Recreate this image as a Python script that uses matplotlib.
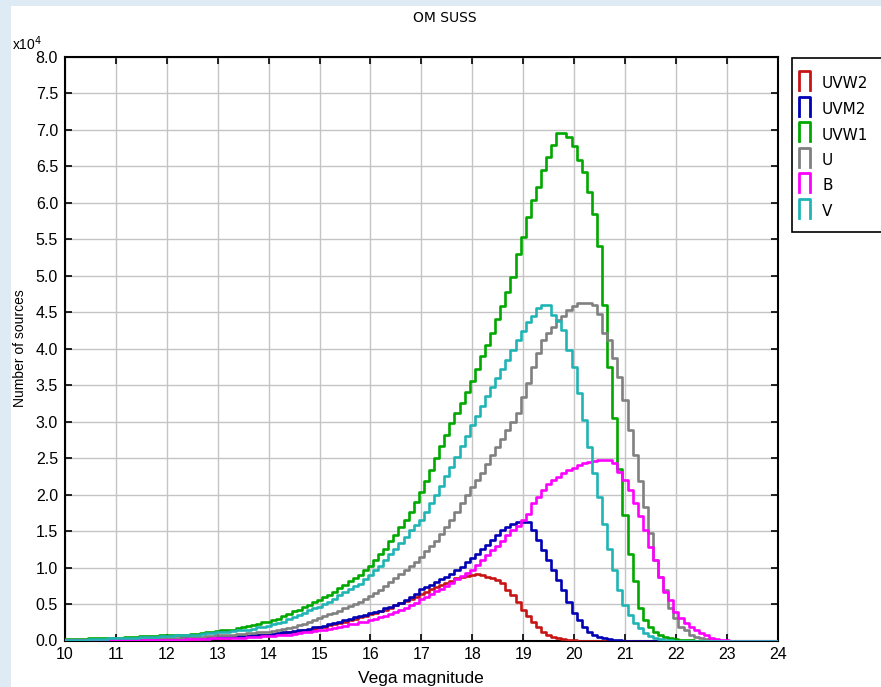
import numpy as np
import matplotlib
matplotlib.use('Agg')
import matplotlib.pyplot as plt
from matplotlib.lines import Line2D
from matplotlib.patches import Rectangle

# histogram counts per 0.1 mag bin, in units of 1e4 sources, bins start at 10.0
mag_start = 10.0
bin_width = 0.1

uvw2 = [0.005]*10 + [0.005,0.005,0.005,0.005,0.005,0.01,0.01,0.01,0.01,0.01] + \
    [0.01,0.01,0.01,0.02,0.02,0.02,0.02,0.03,0.03,0.03,
     0.04,0.04,0.04,0.05,0.05,0.05,0.06,0.06,0.07,0.07,
     0.07,0.08,0.09,0.10,0.11,0.12,0.13,0.14,0.15,0.16,
     0.18,0.19,0.21,0.22,0.24,0.26,0.28,0.30,0.32,0.34,
     0.36,0.38,0.40,0.42,0.45,0.48,0.51,0.54,0.57,0.60,
     0.64,0.67,0.70,0.73,0.76,0.79,0.82,0.85,0.87,0.89,
     0.90,0.91,0.90,0.87,0.85,0.83,0.79,0.69,0.62,0.53,
     0.42,0.33,0.26,0.19,0.12,0.075,0.045,0.03,0.02,0.01,
     0.005]
uvm2 = [0.005]*10 + \
    [0.01,0.01,0.01,0.01,0.01,0.01,0.01,0.02,0.02,0.02,
     0.02,0.02,0.02,0.03,0.03,0.03,0.03,0.04,0.04,0.04,
     0.05,0.05,0.05,0.05,0.06,0.06,0.06,0.07,0.07,0.08,
     0.08,0.09,0.10,0.11,0.12,0.13,0.14,0.15,0.16,0.18,
     0.19,0.20,0.22,0.24,0.26,0.28,0.30,0.32,0.34,0.35,
     0.37,0.39,0.41,0.44,0.46,0.48,0.52,0.56,0.60,0.64,
     0.70,0.73,0.76,0.80,0.84,0.87,0.91,0.96,1.01,1.08,
     1.13,1.19,1.25,1.31,1.38,1.45,1.51,1.56,1.60,1.62,
     1.63,1.62,1.51,1.38,1.24,1.10,0.97,0.83,0.69,0.53,
     0.38,0.28,0.19,0.12,0.075,0.05,0.03,0.02,0.01,0.005]
uvw1 = [0.02,0.02,0.02,0.02,0.02,0.03,0.03,0.03,0.03,0.04,
        0.04,0.04,0.05,0.05,0.05,0.06,0.06,0.06,0.06,0.07,
        0.07,0.07,0.08,0.08,0.08,0.09,0.09,0.10,0.11,0.12,
        0.13,0.14,0.14,0.15,0.17,0.18,0.20,0.21,0.23,0.25,
        0.26,0.28,0.30,0.33,0.36,0.40,0.42,0.46,0.49,0.53,
        0.56,0.60,0.63,0.67,0.72,0.76,0.81,0.86,0.90,0.96,
        1.02,1.10,1.18,1.26,1.36,1.45,1.55,1.65,1.76,1.90,
        2.04,2.18,2.34,2.50,2.66,2.82,2.98,3.12,3.26,3.40,
        3.55,3.72,3.90,4.05,4.22,4.40,4.58,4.78,4.98,5.30,
        5.53,5.80,6.03,6.22,6.45,6.63,6.79,6.96,6.96,6.90,
        6.78,6.58,6.42,6.15,5.85,5.40,4.60,3.75,3.05,2.35,
        1.72,1.18,0.81,0.45,0.28,0.19,0.12,0.08,0.05,0.03,
        0.02,0.01,0.01,0.005]
u = [0.01]*10 + \
    [0.01,0.01,0.01,0.02,0.02,0.02,0.02,0.02,0.03,0.03,
     0.03,0.03,0.04,0.04,0.04,0.05,0.05,0.05,0.06,0.06,
     0.07,0.07,0.08,0.08,0.09,0.09,0.10,0.10,0.11,0.11,
     0.12,0.13,0.14,0.16,0.17,0.19,0.21,0.23,0.26,0.28,
     0.31,0.33,0.36,0.38,0.41,0.44,0.47,0.50,0.53,0.57,
     0.61,0.65,0.69,0.74,0.80,0.86,0.91,0.97,1.02,1.08,
     1.15,1.22,1.29,1.37,1.46,1.55,1.65,1.76,1.88,1.99,
     2.10,2.20,2.30,2.42,2.54,2.65,2.76,2.88,3.00,3.12,
     3.34,3.53,3.75,3.94,4.12,4.21,4.30,4.39,4.44,4.53,
     4.58,4.62,4.63,4.63,4.60,4.48,4.21,4.12,3.87,3.61,
     3.29,2.88,2.54,2.18,1.83,1.47,1.10,0.87,0.69,0.45,
     0.31,0.19,0.14,0.08,0.05,0.03,0.02,0.01,0.005]
b = [0.003]*20 + \
    [0.01,0.01,0.01,0.01,0.02,0.02,0.02,0.02,0.02,0.03,
     0.03,0.03,0.03,0.04,0.04,0.04,0.05,0.05,0.05,0.06,
     0.06,0.06,0.07,0.07,0.08,0.09,0.10,0.11,0.12,0.13,
     0.14,0.15,0.16,0.17,0.19,0.20,0.22,0.23,0.25,0.26,
     0.28,0.30,0.32,0.34,0.36,0.39,0.42,0.45,0.49,0.52,
     0.57,0.60,0.64,0.68,0.71,0.75,0.79,0.84,0.89,0.93,
     0.97,1.04,1.10,1.17,1.24,1.30,1.37,1.44,1.51,1.57,
     1.65,1.74,1.88,1.97,2.06,2.15,2.20,2.24,2.29,2.34,
     2.36,2.40,2.43,2.45,2.46,2.47,2.48,2.48,2.43,2.31,
     2.20,2.06,1.88,1.70,1.51,1.28,1.10,0.87,0.67,0.55,
     0.39,0.31,0.24,0.19,0.14,0.10,0.07,0.04,0.02,0.01,
     0.005]
v = [0.01,0.01,0.01,0.01,0.01,0.02,0.02,0.02,0.02,0.03,
     0.03,0.03,0.03,0.04,0.04,0.05,0.05,0.05,0.05,0.06,
     0.06,0.06,0.07,0.07,0.07,0.08,0.08,0.09,0.10,0.10,
     0.11,0.12,0.12,0.13,0.14,0.14,0.15,0.16,0.18,0.19,
     0.20,0.22,0.24,0.26,0.29,0.32,0.35,0.38,0.42,0.44,
     0.46,0.50,0.53,0.57,0.62,0.66,0.70,0.74,0.78,0.84,
     0.90,0.96,1.02,1.10,1.18,1.25,1.33,1.42,1.52,1.58,
     1.65,1.76,1.88,2.00,2.12,2.25,2.38,2.52,2.66,2.80,
     2.95,3.08,3.22,3.35,3.48,3.60,3.72,3.85,3.98,4.12,
     4.24,4.36,4.45,4.55,4.60,4.60,4.46,4.38,4.25,3.98,
     3.75,3.39,3.02,2.65,2.30,1.97,1.60,1.25,0.97,0.69,
     0.49,0.35,0.24,0.17,0.10,0.06,0.03,0.02,0.01,0.005]

labels = ['UVW2', 'UVM2', 'UVW1', 'U', 'B', 'V']
colors = ['#c81414', '#0000b4', '#00a800', '#808080', '#ff00ff', '#20b4b4']
series = [uvw2, uvm2, uvw1, u, b, v]

nbins = 141
W, H = 881, 687
fig = plt.figure(figsize=(W/100, H/100), dpi=100)
fig.patch.set_facecolor('#deeaf4')
fig.patches.append(Rectangle((11/W, 0), 1, 1 - 6/H, transform=fig.transFigure,
                             facecolor='white', edgecolor='none', zorder=-10))

ax = fig.add_axes([65/W, 1 - 640.5/H, 712.7/W, 583.8/H])
mags = mag_start + bin_width*np.arange(nbins)
for vals, c in zip(series, colors):
    y = np.zeros(nbins)
    y[:len(vals)] = vals
    ax.step(mags, y*1e4, where='mid', color=c, lw=1.9, zorder=3)

ax.set_xlim(10, 24)
ax.set_ylim(0, 8e4)
ax.set_xticks(np.arange(10, 25, 1))
yt = np.arange(0, 8.01, 0.5)
ax.set_yticks(yt*1e4)
ax.set_yticklabels(['%.1f' % t for t in yt])
ax.grid(True, color='#c4c4c4', lw=1)
ax.set_axisbelow(True)
ax.tick_params(direction='in', length=5, width=1.2, top=True, right=True,
               labelsize=11.5)
ax.tick_params(axis='x', pad=5)
ax.tick_params(axis='y', pad=5)
for sp in ax.spines.values():
    sp.set_linewidth(1.5)
for t in ax.get_xticklabels() + ax.get_yticklabels():
    t.set_fontfamily('Liberation Sans')
ax.set_xlabel('Vega magnitude', fontsize=12.5, family='Liberation Sans')
ax.xaxis.set_label_coords(0.5, -0.052)
ax.set_ylabel('Number of sources', fontsize=10, family='Liberation Sans')
ax.yaxis.set_label_coords(-0.053, 0.5)

fig.text(12/W, 1 - 44/H, r'x10$^{4}$', fontsize=10, family='Liberation Sans',
         va='center', ha='left')
fig.text(445/W, 1 - 18/H, 'OM SUSS', fontsize=10, family='DejaVu Sans',
         ha='center', va='center')

# legend box drawn by hand to match the original layout
fig.patches.append(Rectangle((792/W, 1 - 232/H), 120/W, 174/H, transform=fig.transFigure,
                             facecolor='white', edgecolor='black', lw=1.2, zorder=5))
for i, (lab, c) in enumerate(zip(labels, colors)):
    yc = 84 + 25.5*i
    top = yc - 13
    hx = np.array([798.5, 798.5, 809.5, 809.5])
    hy = np.array([top + 19, top, top, top + 19])
    fig.add_artist(Line2D(hx/W, 1 - hy/H, color=c, lw=2, zorder=6,
                          transform=fig.transFigure))
    fig.text(822/W, 1 - yc/H, lab, fontsize=11, family='DejaVu Sans',
             va='center', ha='left', zorder=6)

fig.savefig('out.png', dpi=100, facecolor=fig.get_facecolor())
